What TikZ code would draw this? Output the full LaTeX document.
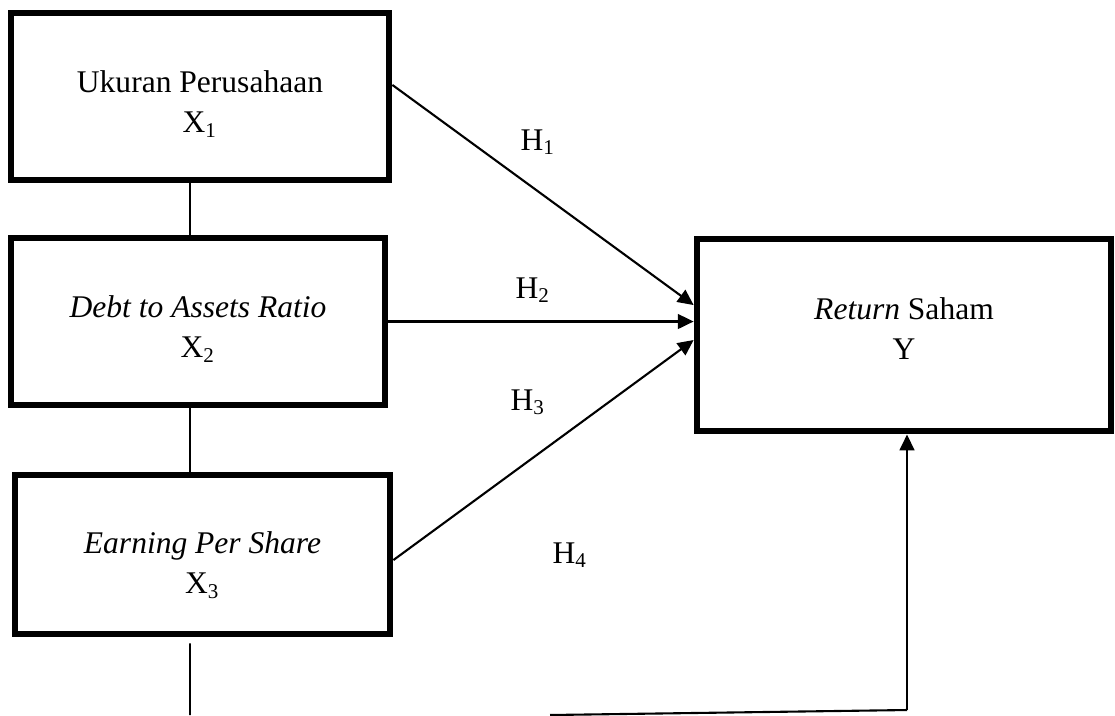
\documentclass[tikz,border=0pt,12pt]{standalone}
\usepackage{fontspec}
\setmainfont{Liberation Serif}
\usetikzlibrary{arrows.meta, positioning}

\begin{document}
\begin{tikzpicture}[
    x=0.3805pt, y=-0.3805pt,
    varbox/.style={rectangle, draw=black, line width=2.6pt, fill=white},
    vartext/.style={anchor=north, inner sep=0pt, align=center, font=\fontsize{12}{15.2}\selectfont},
    hyp/.style={anchor=base west, inner sep=0pt, font=\fontsize{12}{14}\selectfont},
    arrow/.style={-{Triangle[length=6pt, width=5.6pt]}, line width=0.8pt},
    link/.style={line width=0.6pt}
]
\useasboundingbox (0,0) rectangle (1115,715);

% variabel
\node[varbox, minimum width=143.8pt, minimum height=63.5pt] (ukuran) at (200,96.5) {};
\node[varbox, minimum width=142.3pt, minimum height=63.5pt] (dar) at (198,321.5) {};
\node[varbox, minimum width=142.7pt, minimum height=60.5pt] (eps) at (202.5,554.5) {};
\node[varbox, minimum width=157.5pt, minimum height=73.1pt] (return) at (904,335) {};

\node[vartext] (ukurantxt) at ([yshift=10.1pt]ukuran.center) {Ukuran Perusahaan\\X\textsubscript{1}};
\node[vartext] (dartxt) at ([yshift=10.1pt]dar.center) {\textit{Debt to Assets Ratio}\\X\textsubscript{2}};
\node[vartext] (epstxt) at ([yshift=8.9pt]eps.center) {\textit{Earning Per Share}\\X\textsubscript{3}};
\node[vartext] (returntxt) at ([yshift=14.5pt]return.center) {\textit{Return} Saham\\Y};

% hipotesis
\node[hyp] (h1) at (520,150) {H\textsubscript{1}};
\node[hyp] (h2) at (515,298) {H\textsubscript{2}};
\node[hyp] (h3) at (510,410) {H\textsubscript{3}};
\node[hyp] (h4) at (552,563) {H\textsubscript{4}};

\coordinate (stub) at (190,715);
\coordinate (foot) at (550,715);
\coordinate (corner) at (907,710);

\draw[link] ([xshift=-3.8pt]ukuran.south) -- ([xshift=-3.8pt]ukuran.south |- dar.north);
\draw[link] ([xshift=-3pt]dar.south) -- ([xshift=-3pt]dar.south |- eps.north);
\draw[link] ([xshift=-4.76pt,yshift=-2.3pt]eps.south) -- (stub);

\draw[arrow] ([yshift=4.4pt]ukuran.east) -- ([yshift=11.4pt]return.west);
\draw[arrow] (dar.east) -- (dar.east -| return.west);
\draw[arrow] ([yshift=-2.1pt]eps.east) -- ([yshift=-1.9pt]return.west);
\draw[line width=0.8pt] (foot) -- (corner);
\draw[arrow] (corner) -- (corner |- return.south);

\end{tikzpicture}
\end{document}
